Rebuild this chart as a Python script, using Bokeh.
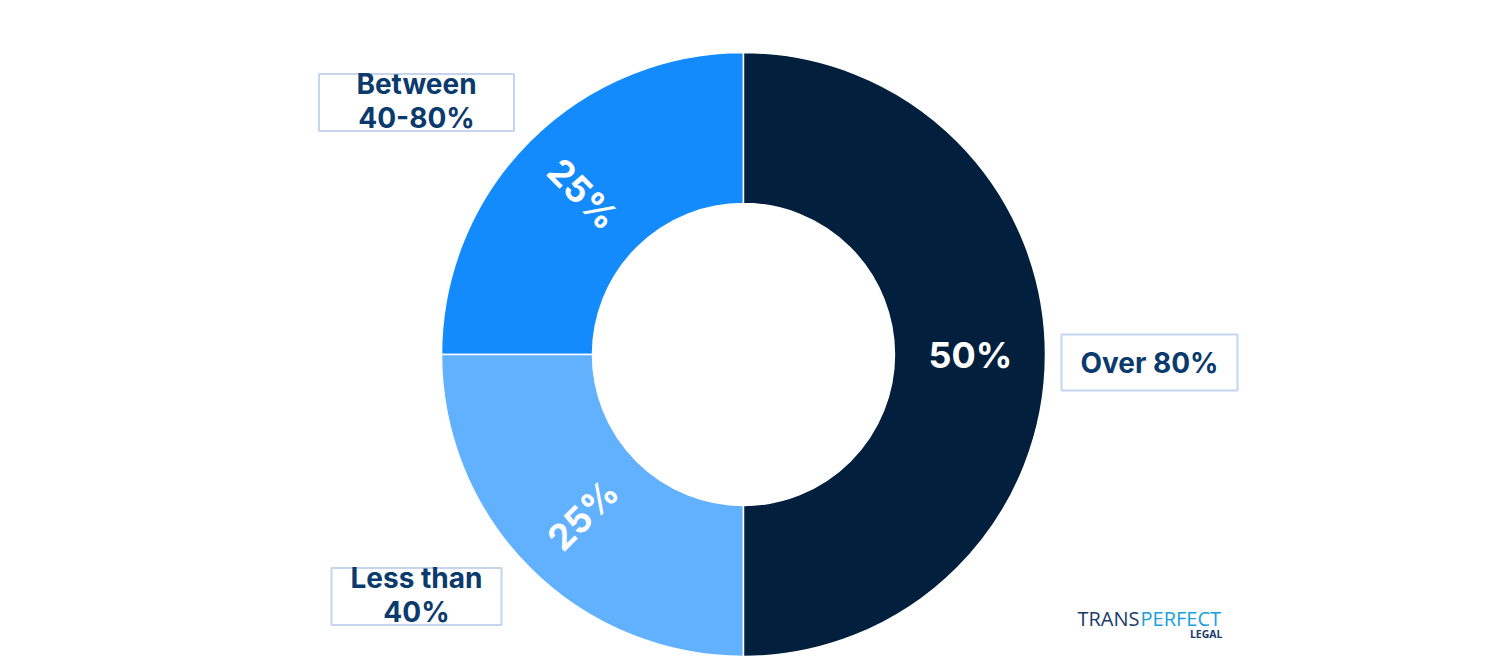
import math
from bokeh.plotting import figure
from bokeh.models import Range1d, ColumnDataSource
from bokeh.core.properties import value
from bokeh.embed import file_html
from bokeh.resources import INLINE

# ---- data ----
categories = ["Between 40-80%", "Less than 40%", "Over 80%"]
values = [25, 25, 50]
pct_labels = ["25%", "25%", "50%"]
box_labels = ["Between\n40-80%", "Less than\n40%", "Over 80%"]
colors = ["#138bfd", "#62b1fe", "#021f3d"]

W, H = 1480, 662
# data coords == reference pixel coords (y measured upward from the image bottom)
p = figure(width=W, height=H, output_backend="svg", toolbar_location=None,
           x_range=Range1d(0, W), y_range=Range1d(667 - H, 667),
           min_border=0)
p.axis.visible = False
p.grid.visible = False
p.outline_line_color = None

cx, cy = 743, 667 - 354
r_out, r_in = 302, 151

total = sum(values)
starts, ends = [], []
a = math.pi / 2
for v in values:
    starts.append(a)
    a += 2 * math.pi * v / total
    ends.append(a)

src = ColumnDataSource(dict(start=starts, end=ends, color=colors))
p.annular_wedge(x=cx, y=cy, inner_radius=r_in, outer_radius=r_out,
                start_angle="start", end_angle="end", fill_color="color",
                line_color="white", line_width=1.5, source=src)

# percentage labels inside wedges
r_mid = 227
mids = [(s + e) / 2 for s, e in zip(starts, ends)]
lx, ly, la = [], [], []
for m in mids:
    lx.append(cx + r_mid * math.cos(m))
    ly.append(cy + r_mid * math.sin(m))
    ang = (m - math.pi) % (2 * math.pi)
    if ang > math.pi:
        ang -= 2 * math.pi
    if abs(abs(ang) - math.pi) < 1e-6 or abs(ang) < 1e-6:
        ang = 0
    la.append(ang)
p.text(x=lx, y=ly, text=pct_labels, angle=la, text_color="white",
       text_font=value("Inter"), text_font_style="bold", text_font_size="36px",
       text_align="center", text_baseline="middle")

# category boxes
box_cx = [416, 416, 1149]
box_cy = [667 - 102, 667 - 596, 667 - 362]
box_w = [195, 170, 176]
box_h = [57, 57, 56]
p.rect(x=box_cx, y=box_cy, width=box_w, height=box_h, fill_color="white",
       line_color="#c6d4ee", line_width=2)
p.text(x=box_cx, y=[y + 2 for y in box_cy[:2]] + [box_cy[2]], text=box_labels,
       text_color="#0b3a6d",
       text_font=value("Inter"), text_font_style="bold", text_font_size="28px",
       text_align="center", text_baseline="middle", text_line_height=1.0)

# logo
p.text(x=[1139], y=[667 - 618], text=["TRANS"], text_color="#1c3a6a",
       text_font=value("Open Sans"), text_font_size="20px",
       text_align="right", text_baseline="middle")
p.text(x=[1140], y=[667 - 618], text=["PERFECT"], text_color="#1a9fdc",
       text_font=value("Open Sans"), text_font_size="20px",
       text_align="left", text_baseline="middle")
p.text(x=[1222], y=[667 - 633], text=["LEGAL"], text_color="#1c3a6a",
       text_font=value("Open Sans"), text_font_style="bold", text_font_size="10.5px",
       text_align="right", text_baseline="middle")

open("out.html", "w").write(file_html(p, INLINE))
